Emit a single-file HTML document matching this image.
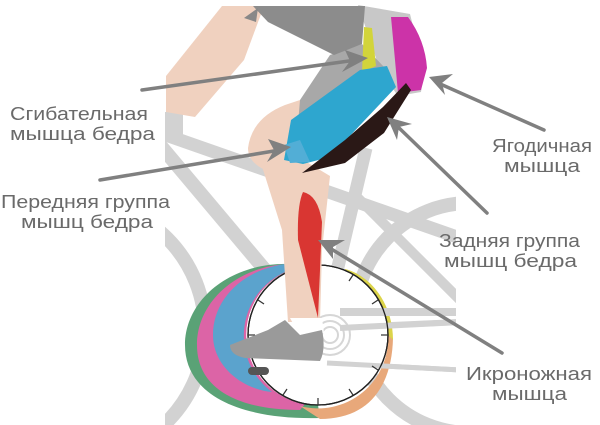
<!DOCTYPE html>
<html><head><meta charset="utf-8"><style>
html,body{margin:0;padding:0;background:#fff;width:600px;height:425px;overflow:hidden;}
svg{display:block}
text{font-family:"Liberation Sans",sans-serif;font-size:18px;fill:#6a6a6a;}
</style></head><body>
<svg width="600" height="425" viewBox="0 0 600 425" xmlns="http://www.w3.org/2000/svg">
<defs>
<clipPath id="cp"><rect x="165" y="0" width="291" height="425"/></clipPath>
</defs>
<g clip-path="url(#cp)" stroke="#d2d2d2" fill="none">
<circle cx="75" cy="330" r="130" stroke-width="14"/>
<circle cx="470" cy="318" r="115" stroke-width="14"/>
<line x1="160" y1="133" x2="460" y2="238" stroke-width="13"/>
<line x1="160" y1="145" x2="292" y2="302" stroke-width="14"/>
<line x1="366" y1="148" x2="325" y2="322" stroke-width="13"/>
<line x1="355" y1="195" x2="460" y2="300" stroke-width="10"/>
<line x1="323" y1="312" x2="460" y2="312" stroke-width="8"/>
<line x1="323" y1="328" x2="460" y2="322" stroke-width="6"/>
<line x1="327" y1="363" x2="460" y2="370" stroke-width="5"/>
<rect x="165" y="112" width="18" height="30" fill="#d2d2d2" stroke="none"/>
</g>
<path d="M222,6 L264,6 L244,60 L195,117 L166,112 L166,76 Z" fill="#f0d1bf"/>
<path d="M358,5 L410,14 L424,70 L421,92 L398,96 L380,70 Z" fill="#c8c8c8"/>
<path d="M300,100 L330,55 L362,44 L385,68 L360,72 L291,122 Z" fill="#a8a8a8"/>
<path d="M253,6 L365,6 L362,44 L334,55 L268,22 Z" fill="#8c8c8c"/>
<path d="M391,17 L408,17 Q425,40 427,68 L421,90 L398,93 L395,60 Z" fill="#cc33a8"/>
<path d="M364,27 L372,28 L376,66 L362,72 Z" fill="#d2d43a"/>
<path d="M290,264 C230,262 185,300 185,345 C185,395 240,420 320,418 L318,405 A70,70 0 0 1 290,270 Z" fill="#5aa276"/>
<path d="M290,264 C240,265 197,300 197,345 C197,390 240,410 300,410 L305,404 A70,70 0 0 1 290,270 Z" fill="#dc64a6"/>
<path d="M298,263 C250,264 213,295 213,335 C213,368 245,390 272,392 A70,70 0 0 1 290,270 Z" fill="#5ba3cd"/>
<path d="M300,406 L320,419 C370,419 392,385 393,338 L388,335 A70,70 0 0 1 300,406 Z" fill="#e8a87a"/>
<path d="M345,269 C372,276 393,305 393,340 L388,335 A70,70 0 0 0 345,271 Z" fill="#dcd44a"/>
<circle cx="318" cy="335" r="70" fill="#fff" stroke="#222" stroke-width="1.3"/>
<g stroke="#d6d6d6" fill="none" stroke-width="2"><circle cx="330" cy="335" r="8"/><circle cx="330" cy="335" r="14"/><circle cx="330" cy="335" r="20"/></g>
<g clip-path="url(#cp)" stroke="#d2d2d2"><line x1="340" y1="312" x2="460" y2="312" stroke-width="8"/><line x1="340" y1="328" x2="460" y2="322" stroke-width="6"/><line x1="327" y1="363" x2="460" y2="370" stroke-width="5"/></g>
<circle cx="318" cy="335" r="70" fill="none" stroke="#222" stroke-width="1.3"/>
<g stroke="#333" stroke-width="1.2"><line x1="318" y1="398" x2="318" y2="405"/><line x1="255" y1="335" x2="248" y2="335"/><line x1="381" y1="335" x2="388" y2="335"/><line x1="353" y1="275" x2="349" y2="281"/><line x1="378" y1="300" x2="372" y2="304"/><line x1="378" y1="370" x2="372" y2="366"/><line x1="353" y1="395" x2="349" y2="389"/><line x1="283" y1="395" x2="287" y2="389"/><line x1="258" y1="300" x2="264" y2="304"/></g>
<path d="M248,148 Q252,118 285,105 L300,100 L295,160 Q280,175 265,170 Q248,162 248,148 Z" fill="#f0d1bf"/>
<path d="M260,160 L300,158 L330,176 L322,250 L320,322 L288,322 L282,230 Z" fill="#f0d1bf"/>
<path d="M303,192 Q318,195 322,222 L318,318 L298,240 Q297,205 303,192 Z" fill="#d93632"/>
<path d="M284,160 L291,120 L360,70 L387,66 L396,87 L330,157 L303,164 Z" fill="#2ea6cf"/>
<path d="M284,145 L300,140 L310,162 L290,163 Z" fill="#52aed6"/>
<path d="M302,173 L345,140 L383,107 L406,83 L411,90 L384,133 L345,163 Z" fill="#2a1816"/>
<path d="M290,318 L322,318 L324,333 L300,336 Z" fill="#fff"/>
<path d="M230,345 L268,330 L285,320 L300,335 L322,330 Q326,350 320,361 L245,358 Q230,355 230,345 Z" fill="#9a9a9a"/>
<rect x="248" y="367" width="21" height="8" rx="4" fill="#555"/>
<path d="M244,18 L258,8 L256,22 Z" fill="#888"/>
<g stroke="#808080" stroke-width="3.5" stroke-linecap="round">
<line x1="142" y1="90" x2="356" y2="60"/>
<line x1="100" y1="180" x2="280" y2="150"/>
<line x1="544" y1="130" x2="438" y2="83"/>
<line x1="487" y1="213" x2="396" y2="125"/>
<line x1="502" y1="353" x2="328" y2="247"/>
</g>
<g fill="#808080">
<polygon points="368,58 345,50 350,61 342,72"/>
<polygon points="291,147 268,139 274,150 267,162"/>
<polygon points="429,77 445,95 442,83 453,74"/>
<polygon points="387,117 397,140 399,127 412,124"/>
<polygon points="318,240 333,259 333,247 345,240"/>
</g>
<text x="10" y="120" textLength="138" lengthAdjust="spacingAndGlyphs">Сгибательная</text>
<text x="10" y="140" textLength="145" lengthAdjust="spacingAndGlyphs">мышца бедра</text>
<text x="1" y="208" textLength="169" lengthAdjust="spacingAndGlyphs">Передняя группа</text>
<text x="21" y="228" textLength="132" lengthAdjust="spacingAndGlyphs">мышц бедра</text>
<text x="492" y="152" textLength="100" lengthAdjust="spacingAndGlyphs">Ягодичная</text>
<text x="504" y="172" textLength="76" lengthAdjust="spacingAndGlyphs">мышца</text>
<text x="439" y="247" textLength="141" lengthAdjust="spacingAndGlyphs">Задняя группа</text>
<text x="444" y="267" textLength="133" lengthAdjust="spacingAndGlyphs">мышц бедра</text>
<text x="466" y="380" textLength="126" lengthAdjust="spacingAndGlyphs">Икроножная</text>
<text x="492" y="400" textLength="75" lengthAdjust="spacingAndGlyphs">мышца</text>
</svg>
</body></html>
